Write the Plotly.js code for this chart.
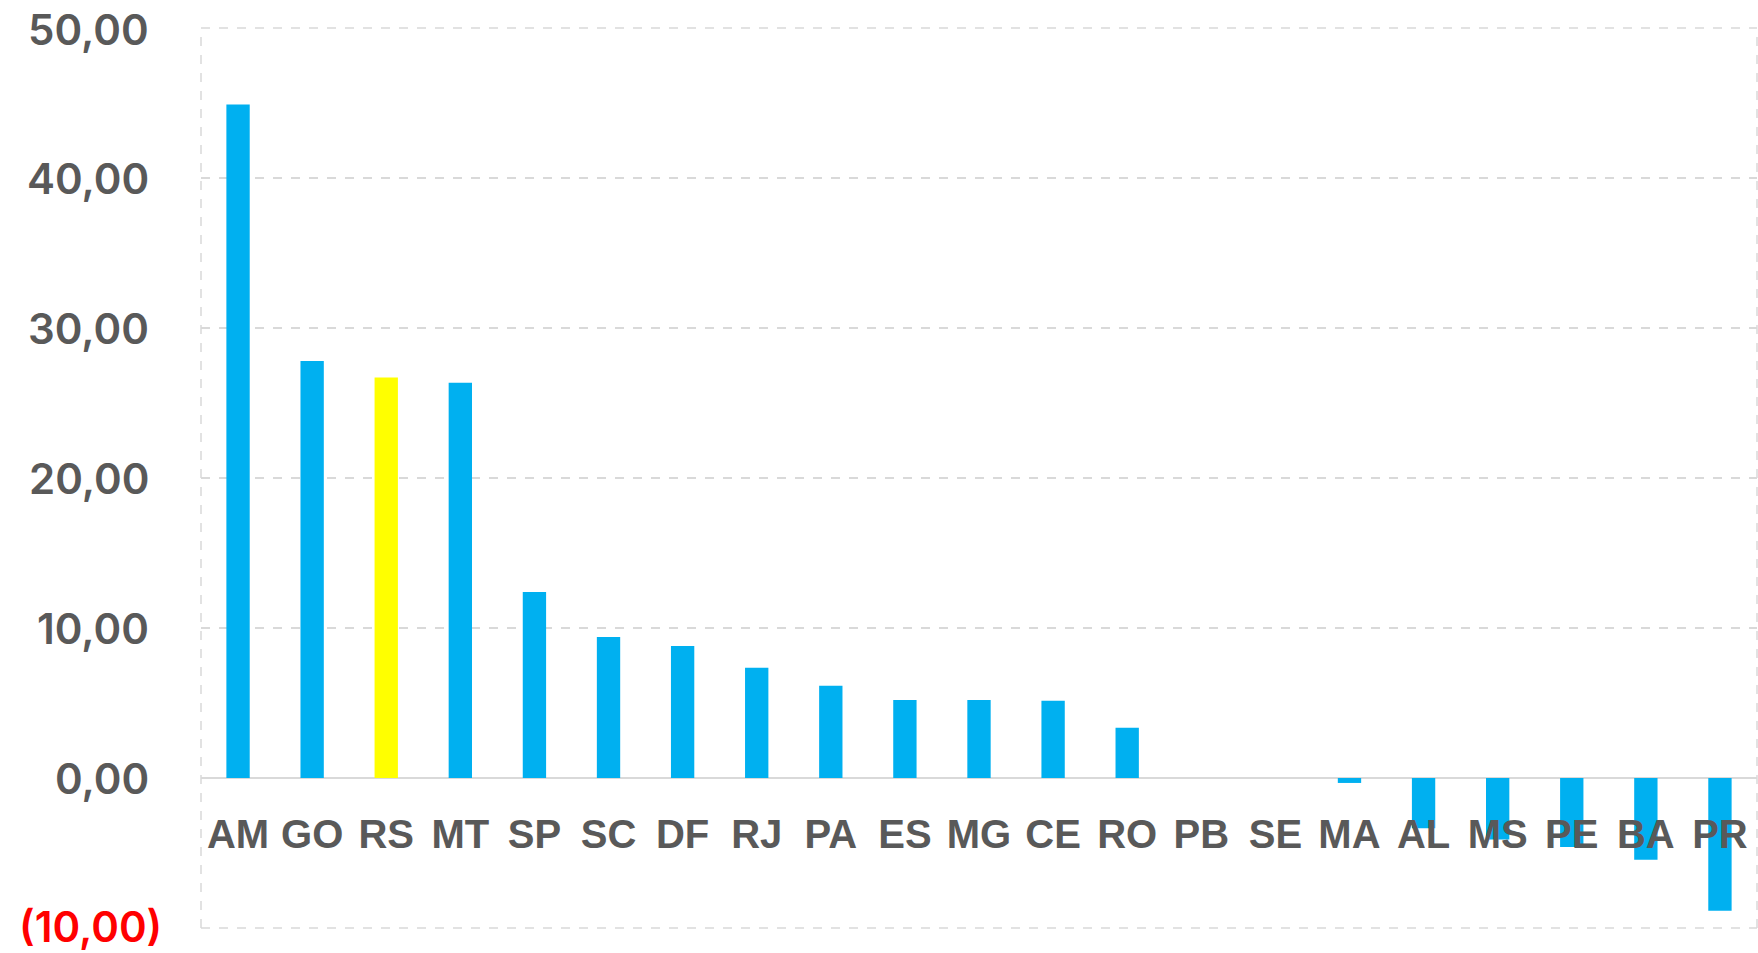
<!DOCTYPE html>
<html>
<head>
<meta charset="utf-8">
<script src="https://cdn.plot.ly/plotly-3.0.1.min.js"></script>
<style>
  html, body { margin: 0; padding: 0; background: #ffffff; }
  #chart { width: 1758px; height: 953px; }
</style>
</head>
<body>
<div id="chart"></div>
<script>
// Data
const states = ["AM","GO","RS","MT","SP","SC","DF","RJ","PA","ES","MG","CE","RO","PB","SE","MA","AL","MS","PE","BA","PR"];
const values = [44.9, 27.8, 26.7, 26.35, 12.4, 9.4, 8.8, 7.35, 6.15, 5.2, 5.2, 5.15, 3.35, 0, 0, -0.33, -3.35, -4.1, -4.6, -5.45, -8.85];
const highlightState = "RS";
const yTickVals = [50, 40, 30, 20, 10, 0, -10];
const yTickText = ["50,00", "40,00", "30,00", "20,00", "10,00", "0,00", "(10,00)"];

const blue = "#00b0f0";
const yellow = "#ffff00";
const colors = states.map(s => s === highlightState ? yellow : blue);

const trace = {
  type: "bar",
  x: states,
  y: values,
  marker: { color: colors, line: { width: 0 } },
  hoverinfo: "x+y",
  cliponaxis: false
};

const yMin = -10, yMax = 50;
const gridCol = "#d9d9d9";
const dashLine = { color: gridCol, width: 1.5, dash: "dash" };
const yFamily = "Inter, Open Sans, Liberation Sans, Arial, sans-serif";

// y-axis labels drawn as text annotations so the edge labels are never dropped
const yLabelAnnotations = yTickVals.map((v, i) => ({
  xref: "paper", yref: "y", x: 0, y: v,
  xanchor: "right", yanchor: "middle",
  xshift: v < 0 ? -38 : -51,
  yshift: v === yMin ? 2 : (v === yMax ? -1 : 0),
  borderpad: 0,
  text: yTickText[i], showarrow: false,
  font: { family: yFamily, size: 42, color: v < 0 ? "#ff0000" : "#595959", weight: 600 }
}));

const layout = {
  width: 1758,
  height: 953,
  margin: { l: 201, r: 1, t: 28, b: 25, pad: 0 },
  paper_bgcolor: "#ffffff",
  plot_bgcolor: "rgba(0,0,0,0)",
  showlegend: false,
  bargap: 0.685,
  font: { family: "Liberation Sans, Arial, sans-serif", color: "#595959" },
  xaxis: {
    type: "category",
    anchor: "free",
    position: (0 - yMin) / (yMax - yMin),
    showgrid: false,
    showline: false,
    zeroline: false,
    ticks: "outside",
    ticklen: 21,
    tickcolor: "rgba(0,0,0,0)",
    tickfont: { family: "Liberation Sans, Arial, sans-serif", size: 40, color: "#595959", weight: "bold" },
    fixedrange: true
  },
  yaxis: {
    range: [yMin, yMax],
    tickvals: yTickVals,
    showticklabels: false,
    showgrid: true,
    gridcolor: gridCol,
    gridwidth: 1.5,
    griddash: "dash",
    zeroline: true,
    zerolinecolor: gridCol,
    zerolinewidth: 2.5,
    showline: false,
    ticks: "",
    fixedrange: true
  },
  annotations: yLabelAnnotations,
  shapes: [
    { type: "line", xref: "paper", yref: "paper", x0: 0, x1: 0, y0: 0, y1: 1, line: dashLine, layer: "below" },
    { type: "line", xref: "paper", yref: "paper", x0: 1, x1: 1, y0: 0, y1: 1, line: dashLine, layer: "below" },
    { type: "line", xref: "paper", yref: "paper", x0: 0, x1: 1, y0: 0, y1: 0, line: dashLine, layer: "below" },
    { type: "line", xref: "paper", yref: "paper", x0: 0, x1: 1, y0: 1, y1: 1, line: dashLine, layer: "below" }
  ]
};

Plotly.newPlot("chart", [trace], layout, { displayModeBar: false, staticPlot: true });
</script>
</body>
</html>
